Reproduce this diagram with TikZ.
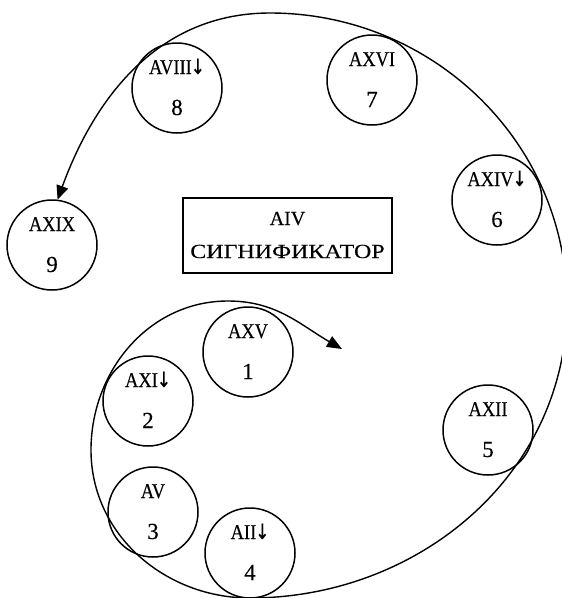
\documentclass[tikz,border=0pt]{standalone}
\usepackage{fontspec}
\setmainfont{Liberation Serif}
\newfontfamily\labfont[FakeStretch=0.88,FakeBold=0.3]{Liberation Serif}
\newfontfamily\numfont[FakeBold=0.3]{Liberation Serif}
\newfontfamily\cyrwide[FakeStretch=1.2,FakeBold=0.3]{Liberation Serif}
\newfontfamily\arrfont[FakeStretch=0.8,FakeBold=0.5]{DejaVu Sans}
\newcommand{\dn}{\kern-1pt{\arrfont ↓}}
\usetikzlibrary{arrows.meta}
\tikzset{
  house/.style={draw, circle, line width=1.5pt, minimum size=90pt, inner sep=0pt},
  lab/.style={anchor=base, inner sep=0pt, font=\fontsize{21}{21}\labfont},
  num/.style={anchor=base, inner sep=0pt, font=\fontsize{23}{23}\numfont},
  sigbox/.style={draw, line width=1.6pt, minimum width=209pt, minimum height=75pt, inner sep=0pt},
  spiral/.style={line width=1.4pt, {Triangle[length=15pt,width=12pt]}-{Triangle[length=14pt,width=12pt]}}
}
\begin{document}
\begin{tikzpicture}[x=1pt,y=1pt]
\useasboundingbox (0,0) rectangle (562,-598);
% houses
\node[house] (c1) at (248,-352) {};
\node[house] (c2) at (148,-401) {};
\node[house] (c3) at (153,-512) {};
\node[house] (c4) at (250,-553) {};
\node[house] (c5) at (488,-430) {};
\node[house] (c6) at (497,-200) {};
\node[house] (c7) at (372,-80) {};
\node[house] (c8) at (177,-88) {};
\node[house] (c9) at (52,-245) {};
% labels
\foreach \c/\t/\n in {c1/AXV/1, c2/AXI\dn/2, c3/AV/3, c4/AII\dn/4, c5/AXII/5, c6/AXIV\dn/6, c7/AXVI/7, c8/AVIII\dn/8, c9/AXIX/9}{
  \node[lab] (\c l) at ([yshift=14pt]\c.center) {\t};
  \node[num] (\c n) at ([yshift=-27pt]\c.center) {\n};
}
% significator
\node[sigbox] (sig) at (287.5,-235.5) {};
\node[lab, font=\fontsize{20}{20}\numfont] (sigA) at (287.5,-225) {AIV};
\node[lab, font=\fontsize{20}{20}\cyrwide] (sigB) at (287.5,-258) {СИГНИФИКАТОР};
% spiral
\coordinate (s1) at (342,-349);
\coordinate (t1) at (228,-301);
\coordinate (l1) at (91,-450);
\coordinate (b1) at (250,-598);
\coordinate (r1) at (567,-305);
\coordinate (t2) at (270,-13);
\draw[spiral] (s1) to[out=150,in=0] (t1) to[out=180,in=90] (l1)
  to[out=270,in=180] (b1) to[out=0,in=270] (r1) to[out=90,in=0] (t2)
  to[out=180,in=70] (c9.83);
\end{tikzpicture}
\end{document}
